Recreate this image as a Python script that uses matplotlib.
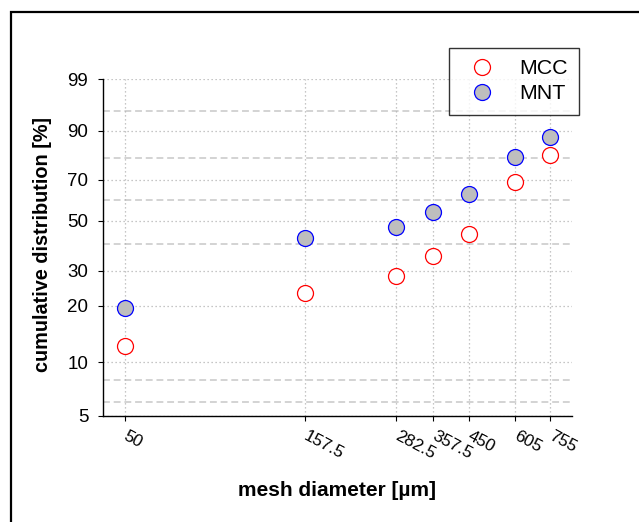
import numpy as np
import matplotlib
matplotlib.use("Agg")
import matplotlib.pyplot as plt
from matplotlib.ticker import NullLocator, FixedLocator, FixedFormatter
from matplotlib.lines import Line2D
from matplotlib.patches import Rectangle

plt.rcParams['font.family'] = ['Liberation Sans', 'DejaVu Sans']

# ---- data ----
mesh = [50, 157.5, 282.5, 357.5, 450, 605, 755]
mesh_labels = ["50", "157.5", "282.5", "357.5", "450", "605", "755"]
mcc = [12.2, 23.4, 28.3, 35.3, 44.2, 68.7, 81.3]
mnt = [19.4, 42.3, 47.4, 54.4, 62.9, 80.5, 88.0]
y_ticks = [5, 10, 20, 30, 50, 70, 90, 99]
ref_lines = [95, 80, 60, 40, 8, 6]

W, H = 639, 522
fig = plt.figure(figsize=(W / 100, H / 100), dpi=100)
L, R, T, B = 103, 572, 79, 416
ax = fig.add_axes([L / W, (H - B) / H, (R - L) / W, (B - T) / H])


def fwd(p):
    p = np.clip(np.asarray(p, dtype=float), 1e-9, 100 - 1e-9)
    return np.log(-np.log(1 - p / 100.0))


def inv(w):
    w = np.asarray(w, dtype=float)
    return 100.0 * (1 - np.exp(-np.exp(w)))


ax.set_xscale('log')
ax.set_yscale('function', functions=(fwd, inv))
ax.set_xlim(50 / 1.15, 755 * 1.15)
ax.set_ylim(5, 99)

ax.xaxis.set_major_locator(FixedLocator(mesh))
ax.xaxis.set_major_formatter(FixedFormatter(mesh_labels))
ax.xaxis.set_minor_locator(NullLocator())
ax.yaxis.set_major_locator(FixedLocator(y_ticks))
ax.yaxis.set_major_formatter(FixedFormatter([str(v) for v in y_ticks]))
ax.yaxis.set_minor_locator(NullLocator())

for s in ['top', 'right']:
    ax.spines[s].set_visible(False)
for s in ['left', 'bottom']:
    ax.spines[s].set_linewidth(1.0)

ax.tick_params(axis='both', direction='out', length=3.6, width=0.8)
ax.tick_params(axis='y', pad=7, labelsize=13.5)
ax.tick_params(axis='x', pad=10, labelsize=12.3)
for lab in ax.get_xticklabels():
    lab.set_rotation(-28)
    lab.set_ha('left')
    lab.set_va('center')
    lab.set_rotation_mode('anchor')

ax.grid(True, which='major', color='#b4b4b4', linestyle=(0, (1, 2.2)), linewidth=0.9)
for v in ref_lines:
    ax.axhline(v, color='#c8c8c8', linestyle=(0, (4.5, 2.5)), linewidth=1.1, zorder=1)

ax.plot(mesh, mcc, 'o', ms=11.5, mfc='white', mec='red', mew=0.9, zorder=3,
        clip_on=False)
ax.plot(mesh, mnt, 'o', ms=11.5, mfc='#bebebe', mec='blue', mew=0.9, zorder=3,
        clip_on=False)

handles = [
    Line2D([], [], marker='o', ls='none', ms=11.5, mfc='white', mec='red', mew=0.9),
    Line2D([], [], marker='o', ls='none', ms=11.5, mfc='#bebebe', mec='blue', mew=0.9),
]
leg = fig.legend(handles, ['MCC', 'MNT'], loc='upper left',
                 bbox_to_anchor=(448.5 / W, 1 - 47.5 / H), fontsize=15.4,
                 frameon=True, fancybox=False, edgecolor='black',
                 borderpad=0.55, labelspacing=0.27, handlelength=2.05,
                 handletextpad=0.69, borderaxespad=0)
leg.get_frame().set_linewidth(1.0)

fig.text(337.5 / W, 1 - 491 / H, 'mesh diameter [µm]', ha='center', va='center',
         fontsize=15, fontweight='bold')
fig.text(43 / W, 1 - 244 / H, 'cumulative distribution [%]', ha='center',
         va='center', rotation=90, fontsize=14.3, fontweight='bold')

fig.add_artist(Rectangle((11 / W, -0.2), 2.0, 0.2 + (H - 12) / H,
                         transform=fig.transFigure, fill=False,
                         edgecolor='black', linewidth=1.6))

fig.savefig('out.png', dpi=100)
